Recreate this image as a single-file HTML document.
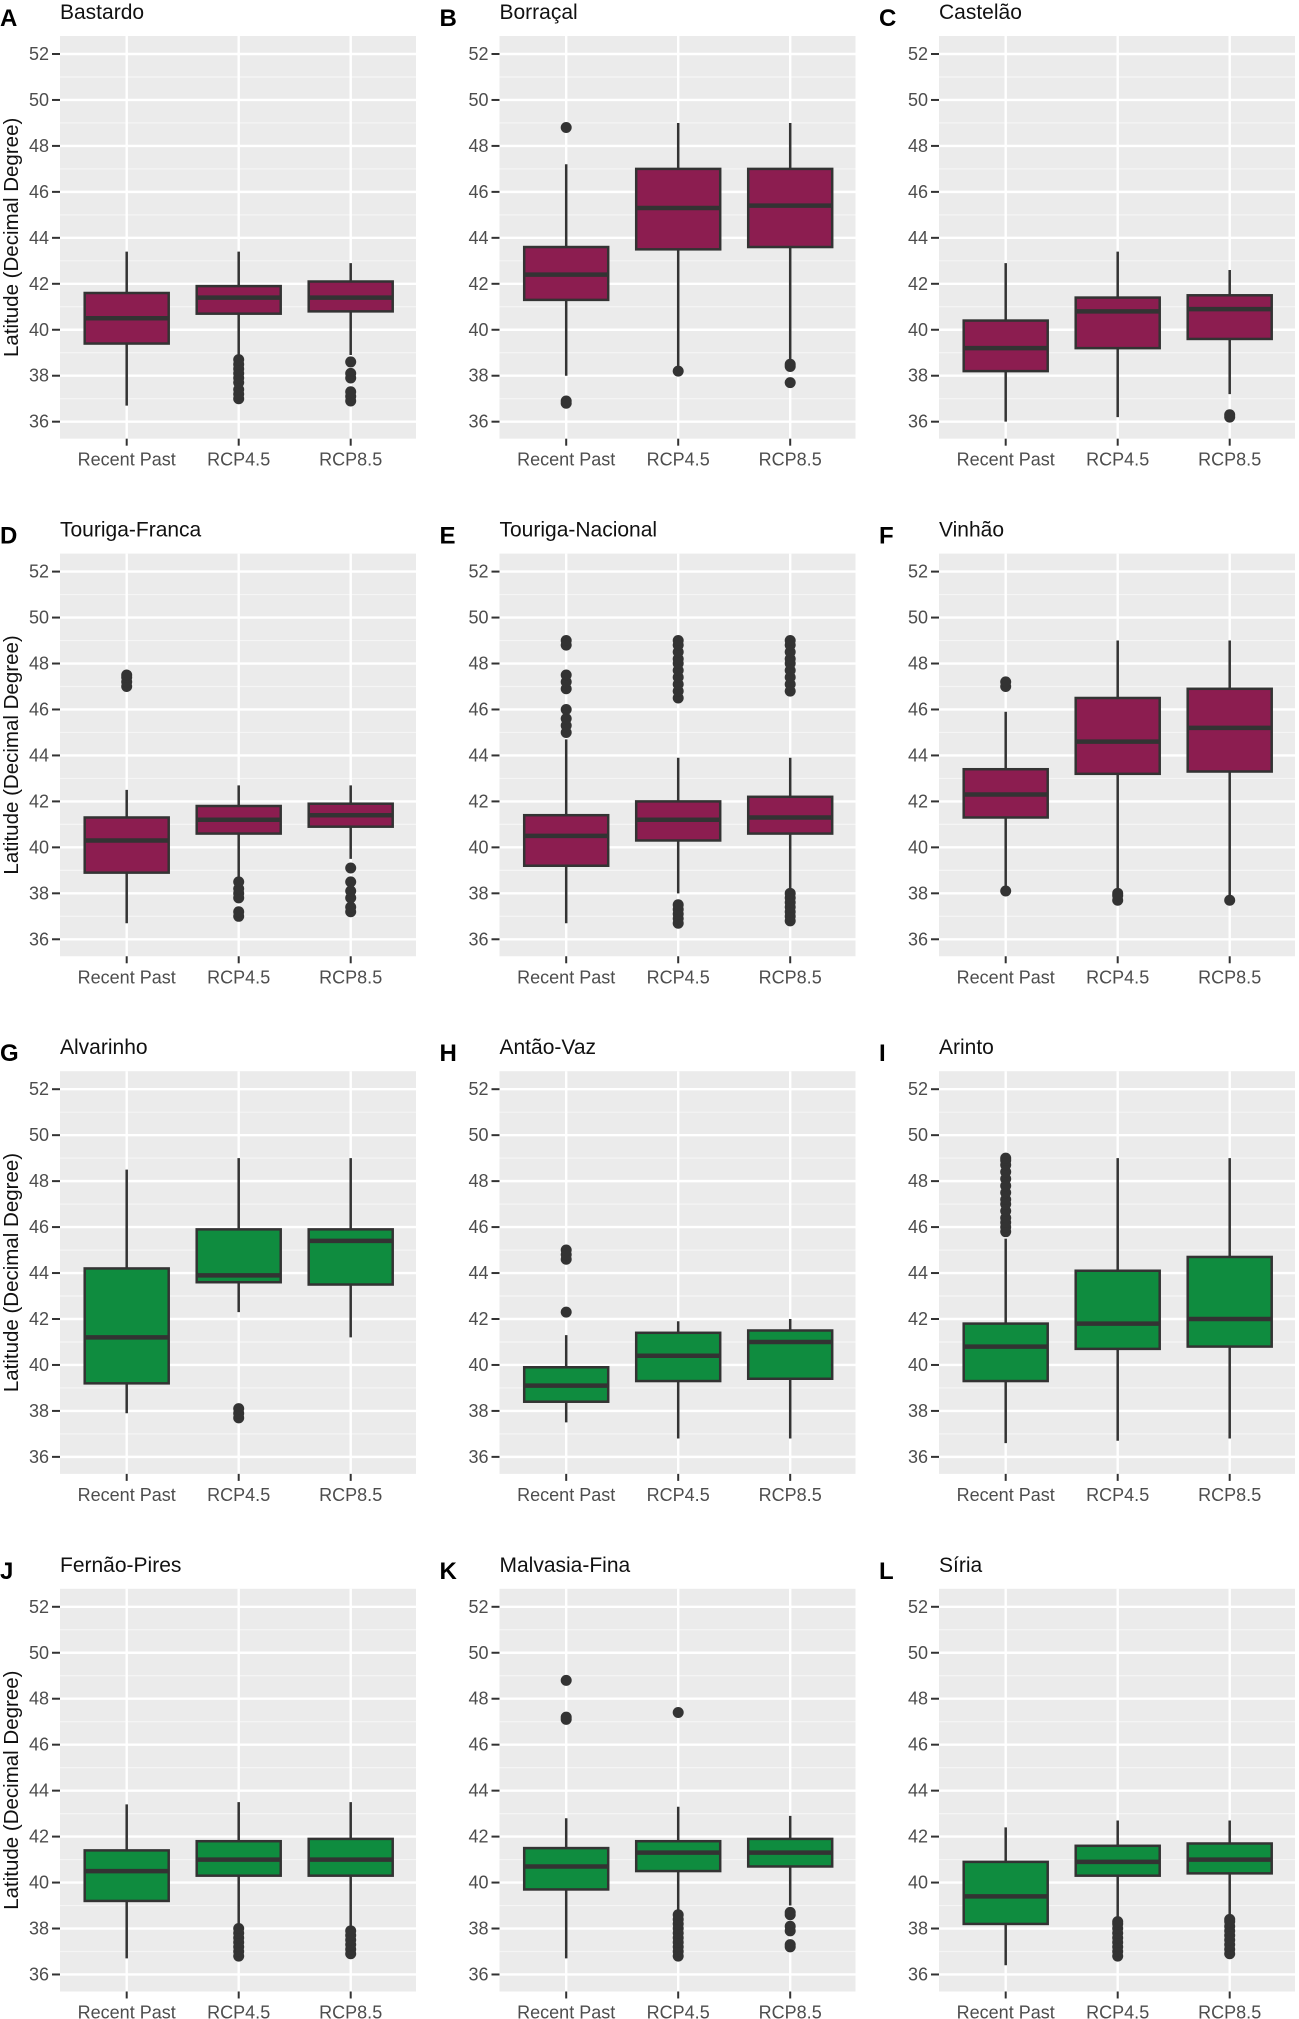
<!DOCTYPE html>
<html><head><meta charset="utf-8"><style>
body{margin:0;background:#fff;}
svg{display:block;font-family:"Liberation Sans",sans-serif;}
</style></head><body>
<svg id="chart" width="1299" height="2019" viewBox="0 0 1299 2019"></svg>
<script>
const categories = ["Recent Past","RCP4.5","RCP8.5"];
const yTicks = [36,38,40,42,44,46,48,50,52];
const panelLetters = ["A","B","C","D","E","F","G","H","I","J","K","L"];
const panelTitles = ["Bastardo","Borraçal","Castelão","Touriga-Franca","Touriga-Nacional","Vinhão","Alvarinho","Antão-Vaz","Arinto","Fernão-Pires","Malvasia-Fina","Síria"];
const panelGroups = ["red","red","red","red","red","red","white","white","white","white","white","white"];
// [lowWhisker, q1, median, q3, highWhisker] per panel, per category
const boxStats = [
 [[36.7,39.4,40.5,41.6,43.4],[38.9,40.7,41.4,41.9,43.4],[38.9,40.8,41.4,42.1,42.9]],
 [[38.0,41.3,42.4,43.6,47.2],[38.4,43.5,45.3,47.0,49.0],[38.7,43.6,45.4,47.0,49.0]],
 [[36.0,38.2,39.2,40.4,42.9],[36.2,39.2,40.8,41.4,43.4],[37.2,39.6,40.9,41.5,42.6]],
 [[36.7,38.9,40.3,41.3,42.5],[38.6,40.6,41.2,41.8,42.7],[39.5,40.9,41.4,41.9,42.7]],
 [[36.7,39.2,40.5,41.4,44.7],[38.0,40.3,41.2,42.0,43.9],[38.2,40.6,41.3,42.2,43.9]],
 [[38.3,41.3,42.3,43.4,45.9],[38.1,43.2,44.6,46.5,49.0],[37.9,43.3,45.2,46.9,49.0]],
 [[37.9,39.2,41.2,44.2,48.5],[42.3,43.6,43.9,45.9,49.0],[41.2,43.5,45.4,45.9,49.0]],
 [[37.5,38.4,39.1,39.9,41.3],[36.8,39.3,40.4,41.4,41.9],[36.8,39.4,41.0,41.5,42.0]],
 [[36.6,39.3,40.8,41.8,45.5],[36.7,40.7,41.8,44.1,49.0],[36.8,40.8,42.0,44.7,49.0]],
 [[36.7,39.2,40.5,41.4,43.4],[38.2,40.3,41.0,41.8,43.5],[38.1,40.3,41.0,41.9,43.5]],
 [[36.7,39.7,40.7,41.5,42.8],[38.8,40.5,41.3,41.8,43.3],[39.0,40.7,41.3,41.9,42.9]],
 [[36.4,38.2,39.4,40.9,42.4],[38.4,40.3,40.9,41.6,42.7],[38.5,40.4,41.0,41.7,42.7]]
];
const outliers = [
 [[],[37.0,37.2,37.4,37.7,37.9,38.1,38.3,38.5,38.7],[36.9,37.1,37.3,37.9,38.1,38.6]],
 [[48.8,36.8,36.9],[38.2],[38.4,38.5,37.7]],
 [[],[],[36.2,36.3]],
 [[47.0,47.2,47.4,47.5],[37.0,37.2,37.8,38.0,38.2,38.5],[37.2,37.4,37.8,38.1,38.5,39.1]],
 [[45.0,45.3,45.6,46.0,46.9,47.2,47.5,48.8,49.0],[36.7,36.9,37.1,37.3,37.5,46.5,46.8,47.1,47.4,47.7,48.0,48.2,48.5,48.8,49.0],[36.8,37.0,37.2,37.4,37.6,37.8,38.0,46.8,47.1,47.4,47.7,48.0,48.2,48.5,48.8,49.0]],
 [[47.0,47.2,38.1],[37.7,37.9,38.0],[37.7]],
 [[],[37.7,37.9,38.1],[]],
 [[42.3,44.6,44.8,45.0],[],[]],
 [[45.8,46.0,46.2,46.4,46.7,47.0,47.2,47.5,47.8,48.1,48.4,48.7,48.9,49.0],[],[]],
 [[],[36.8,37.0,37.2,37.4,37.6,37.8,38.0],[36.9,37.1,37.3,37.5,37.7,37.9]],
 [[47.1,47.2,48.8],[36.8,37.0,37.2,37.4,37.6,37.8,38.0,38.2,38.4,38.6,47.4],[37.2,37.3,37.9,38.1,38.6,38.7]],
 [[],[36.8,37.0,37.2,37.4,37.6,37.8,38.0,38.2,38.3],[36.9,37.1,37.3,37.5,37.7,37.9,38.1,38.3,38.4]]
];

const NS="http://www.w3.org/2000/svg";
const svg=document.getElementById('chart');
const fills={red:"#8c1d50",white:"#0f8c3f"};
function mk(tag,attrs,parent){const e=document.createElementNS(NS,tag);for(const k in attrs)e.setAttribute(k,attrs[k]);(parent||svg).appendChild(e);return e;}

const PX=22.98, PW=356;
for(let p=0;p<12;p++){
  const c=p%3, r=Math.floor(p/3);
  const left=60+c*439.5;
  const y52=54+r*517.6;
  const yS=v=>y52+(52-v)*PX;
  const xS=i=>left+66.7+i*112;
  const top=y52-18, bottom=yS(36)+17;
  const g=mk('g',{});
  
  
  const lt=mk('text',{x:c*439.5,y:y52-28,'font-size':24,'font-weight':'bold',fill:'#000'},g);
  lt.textContent=panelLetters[p];
  
  
  const tt=mk('text',{x:left,y:y52-35,'font-size':21,fill:'#111'},g);
  tt.textContent=panelTitles[p];
  
  
  const bg=mk('rect',{x:left,y:top,width:PW,height:bottom-top,fill:'#ebebeb'},g);
  
  
  for(let v=37;v<=51;v+=2){mk('line',{x1:left,x2:left+PW,y1:yS(v),y2:yS(v),stroke:'#f5f5f5','stroke-width':1.2},g);}
  yTicks.forEach(v=>{
    const y=yS(v);
    mk('line',{x1:left,x2:left+PW,y1:y,y2:y,stroke:'#fff','stroke-width':2.4},g);
    mk('line',{x1:left-8,x2:left,y1:y,y2:y,stroke:'#333','stroke-width':2},g);
    const t=mk('text',{x:left-11,y:y+6,'font-size':18,fill:'#4d4d4d','text-anchor':'end'},g);
    t.textContent=v;
    
    
  });
  categories.forEach((cat,i)=>{
    const x=xS(i);
    mk('line',{x1:x,x2:x,y1:top,y2:bottom,stroke:'#fff','stroke-width':2.4},g);
    mk('line',{x1:x,x2:x,y1:bottom,y2:bottom+7,stroke:'#333','stroke-width':2},g);
    const t=mk('text',{x:x,y:bottom+27,'font-size':18,fill:'#4d4d4d','text-anchor':'middle'},g);
    t.textContent=cat;
    
    
    const s=boxStats[p][i];
    const bx=mk('g',{},g);
    
    
    mk('line',{x1:x,x2:x,y1:yS(s[0]),y2:yS(s[4]),stroke:'#333','stroke-width':2.5},bx);
    mk('rect',{x:x-42,y:yS(s[3]),width:84,height:yS(s[1])-yS(s[3]),fill:fills[panelGroups[p]],stroke:'#333','stroke-width':2.5},bx);
    mk('line',{x1:x-42,x2:x+42,y1:yS(s[2]),y2:yS(s[2]),stroke:'#333','stroke-width':4.5},bx);
    outliers[p][i].forEach(v=>{
      const o=mk('circle',{cx:x,cy:yS(v),r:5.5,fill:'#333'},bx);
      
      
    });
  });
  if(c===0){
    const cy=(top+bottom)/2;
    const yt=mk('text',{x:18,y:cy,'font-size':20.5,fill:'#111','text-anchor':'middle',transform:'rotate(-90 18 '+cy+')'},g);
    yt.textContent="Latitude (Decimal Degree)";
    
    
  }
}
</script>
</body></html>
